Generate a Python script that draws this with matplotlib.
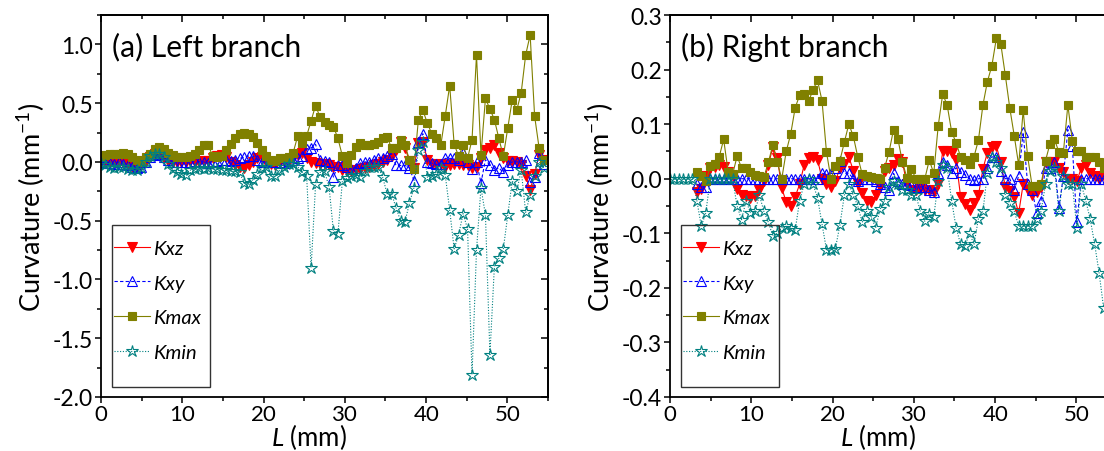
import numpy as np
import matplotlib
matplotlib.use('Agg')
import matplotlib.pyplot as plt
from matplotlib.patches import Rectangle
from matplotlib.ticker import MultipleLocator, FuncFormatter

nan = np.nan

# arc length along the branch (mm)
L = [0.0, 0.55, 1.1, 1.65, 2.2, 2.75, 3.3, 3.85, 4.4, 4.95,
     5.5, 6.05, 6.6, 7.15, 7.7, 8.25, 8.8, 9.35, 9.9, 10.45,
     11.0, 11.55, 12.1, 12.65, 13.2, 13.75, 14.3, 14.85, 15.4, 15.95,
     16.5, 17.05, 17.6, 18.15, 18.7, 19.25, 19.8, 20.35, 20.9, 21.45,
     22.0, 22.55, 23.1, 23.65, 24.2, 24.75, 25.3, 25.85, 26.4, 26.95,
     27.5, 28.05, 28.6, 29.15, 29.7, 30.25, 30.8, 31.35, 31.9, 32.45,
     33.0, 33.55, 34.1, 34.65, 35.2, 35.75, 36.3, 36.85, 37.4, 37.95,
     38.5, 39.05, 39.6, 40.15, 40.7, 41.25, 41.8, 42.35, 42.9, 43.45,
     44.0, 44.55, 45.1, 45.65, 46.2, 46.75, 47.3, 47.85, 48.4, 48.95,
     49.5, 50.05, 50.6, 51.15, 51.7, 52.25, 52.8, 53.35, 53.9, 54.45]

# (a) left branch
left_kxz = [0.0, -0.01, 0.0, -0.01, 0.0, -0.01, -0.03, -0.04, -0.05, -0.03,
            0.01, 0.04, 0.07, 0.06, 0.03, 0.01, 0.0, 0.0, 0.0, 0.0,
            0.01, 0.0, 0.0, 0.01, 0.01, 0.03, 0.05, 0.06, 0.04, 0.0,
            -0.03, -0.04, -0.05, -0.03, 0.0, 0.03, 0.04, 0.0, -0.02, -0.03,
            0.0, 0.01, 0.01, 0.03, 0.06, 0.08, 0.03, 0.0, -0.01, -0.02,
            -0.02, -0.03, -0.04, -0.04, -0.07, -0.08, -0.08, -0.07, -0.06, -0.05,
            -0.04, -0.03, -0.02, 0.0, 0.02, 0.05, 0.1, 0.17, 0.12, 0.01,
            -0.05, 0.16, 0.17, 0.02, -0.02, -0.03, -0.02, -0.04, -0.03, -0.02,
            -0.02, -0.03, -0.03, -0.05, -0.04, 0.03, 0.1, 0.12, 0.14, 0.08,
            0.03, 0.01, 0.01, 0.0, -0.03, -0.12, -0.24, -0.1, 0.06, 0.02]
left_kxy = [0.0, -0.01, -0.01, -0.02, 0.0, -0.02, -0.03, -0.04, -0.05, -0.04,
            0.0, 0.04, 0.06, 0.07, 0.04, 0.02, 0.0, 0.0, 0.0, 0.0,
            0.0, 0.01, 0.0, 0.0, -0.01, 0.0, 0.01, 0.02, 0.02, 0.01,
            0.02, 0.03, 0.04, 0.05, 0.05, 0.02, 0.0, 0.01, 0.0, 0.0,
            0.0, -0.01, 0.01, 0.02, 0.03, 0.05, 0.11, 0.12, 0.15, 0.02,
            0.01, 0.0, -0.13, -0.03, -0.03, -0.04, -0.06, -0.05, -0.01, 0.0,
            0.0, 0.02, 0.03, 0.03, 0.05, 0.07, -0.03, -0.03, -0.03, -0.05,
            -0.16, 0.17, 0.24, 0.0, -0.01, -0.02, -0.02, 0.03, 0.03, 0.03,
            0.02, 0.08, 0.0, -0.06, 0.0, -0.18, 0.02, -0.03, -0.07, -0.05,
            -0.09, -0.03, 0.0, 0.0, 0.0, 0.02, -0.17, -0.13, 0.08, -0.02]
left_kmax = [0.05, 0.06, 0.07, 0.07, 0.07, 0.08, 0.07, 0.04, 0.02, 0.0,
             0.04, 0.07, 0.11, 0.13, 0.11, 0.08, 0.06, 0.04, 0.04, 0.04,
             0.05, 0.07, 0.1, 0.14, 0.14, 0.05, 0.04, 0.05, 0.1, 0.15,
             0.2, 0.24, 0.25, 0.24, 0.21, 0.16, 0.1, 0.05, 0.02, 0.01,
             0.03, 0.03, 0.04, 0.08, 0.22, 0.165, 0.22, 0.35, 0.48, 0.38,
             0.34, 0.31, 0.3, 0.2, 0.05, -0.01, 0.06, 0.13, 0.16, 0.14,
             0.14, 0.15, 0.17, 0.2, 0.21, 0.12, 0.12, 0.19, 0.14, 0.02,
             -0.06, 0.36, 0.44, 0.33, 0.24, 0.2, 0.14, 0.39, 0.65, 0.15,
             0.05, 0.14, 0.03, 0.19, 0.91, 0.06, 0.54, 0.45, 0.36, 0.2,
             0.05, 0.29, 0.53, 0.44, 0.59, 0.91, 1.08, 0.39, 0.12, 0.02]
left_kmin = [-0.01, -0.03, -0.04, -0.05, -0.04, -0.04, -0.06, -0.07, -0.07, -0.05,
             0.0, 0.05, 0.07, 0.07, 0.04, -0.02, -0.06, -0.09, -0.1, -0.11,
             -0.07, -0.06, -0.05, -0.06, -0.05, -0.06, -0.06, -0.07, -0.07, -0.08,
             -0.08, -0.09, -0.18, -0.19, -0.15, -0.1, -0.05, -0.04, -0.12, -0.12,
             -0.07, -0.04, -0.02, -0.02, -0.04, -0.09, -0.12, -0.9, -0.19, -0.09,
             -0.08, -0.21, -0.59, -0.61, -0.16, -0.14, -0.12, -0.11, -0.13, -0.08,
             -0.04, -0.04, -0.04, -0.13, -0.27, -0.27, -0.39, -0.5, -0.51, -0.35,
             -0.22, 0.1, 0.17, -0.13, -0.12, -0.1, -0.05, -0.11, -0.41, -0.74,
             -0.62, -0.44, -0.57, -1.81, -0.75, -0.22, -0.45, -1.64, -0.89, -0.82,
             -0.74, -0.45, -0.16, -0.25, -0.07, -0.43, -0.28, -0.12, 0.0, -0.05]

# (b) right branch
right_kxz = [nan, nan, nan, nan, nan, nan, -0.025, -0.018, 0.005, 0.02,
             0.022, 0.025, 0.022, 0.013, 0.005, -0.019, -0.03, -0.032, -0.035, -0.032,
             -0.02, -0.005, 0.025, 0.058, 0.038, -0.017, -0.043, -0.05, -0.033, -0.01,
             0.025, 0.038, 0.04, 0.035, 0.0, -0.01, -0.015, -0.005, 0.02, 0.027,
             0.04, 0.015, -0.01, -0.027, -0.04, -0.043, -0.03, -0.015, 0.015, 0.02,
             0.026, 0.036, 0.03, -0.01, -0.02, -0.021, -0.018, -0.02, -0.02, -0.025,
             -0.01, 0.05, 0.05, 0.047, 0.035, -0.033, -0.046, -0.058, -0.045, -0.03,
             0.018, 0.048, 0.058, 0.06, 0.03, -0.015, -0.023, -0.033, -0.063, -0.01,
             -0.02, -0.03, -0.025, -0.015, 0.03, 0.03, 0.03, 0.02, 0.012, 0.0,
             0.0, -0.005, 0.02, 0.025, 0.01, 0.005, 0.0, 0.005, 0.0, 0.0]
right_kxy = [nan, nan, nan, nan, nan, nan, -0.01, -0.015, -0.015, 0.0,
             0.0, 0.0, 0.0, 0.0, 0.0, 0.0, 0.0, 0.0, 0.0, 0.0,
             0.0, 0.0, 0.0, 0.0, 0.0, 0.0, 0.0, 0.0, 0.0, 0.0,
             0.0, 0.0, 0.0, 0.0, 0.01, 0.008, 0.01, 0.02, 0.033, 0.01,
             0.01, 0.0, -0.005, 0.0, 0.0, 0.0, -0.005, -0.01, -0.015, -0.02,
             0.01, -0.005, -0.01, -0.01, -0.012, -0.015, -0.015, -0.016, -0.02, -0.025,
             0.01, 0.03, 0.025, 0.01, 0.02, 0.013, 0.007, 0.0, -0.003, 0.0,
             0.0, 0.02, 0.04, 0.04, 0.015, 0.0, 0.0, -0.02, 0.005, 0.085,
             -0.01, -0.02, -0.063, -0.04, 0.02, 0.02, 0.03, -0.053, 0.005, 0.09,
             0.06, -0.08, 0.0, 0.0, 0.0, 0.0, 0.0, 0.0, 0.0, 0.0]
right_kmax = [nan, nan, nan, nan, nan, nan, 0.013, 0.005, -0.005, 0.023,
              0.027, 0.04, 0.072, 0.013, 0.008, 0.041, 0.02, 0.019, 0.013, 0.007,
              0.005, 0.003, 0.03, 0.062, 0.03, 0.0, 0.05, 0.082, 0.13, 0.153,
              0.155, 0.142, 0.163, 0.18, 0.143, 0.049, 0.0, 0.023, 0.033, 0.067,
              0.1, 0.078, 0.04, 0.008, 0.005, 0.003, 0.002, 0.0, 0.02, 0.049,
              0.09, 0.072, 0.03, 0.002, 0.018, 0.0, 0.0, 0.0, 0.034, 0.01,
              0.097, 0.155, 0.135, 0.086, 0.066, 0.04, 0.034, 0.027, 0.04, 0.071,
              0.135, 0.178, 0.207, 0.257, 0.247, 0.19, 0.13, 0.079, 0.025, 0.125,
              0.041, -0.013, -0.013, -0.01, 0.033, 0.064, 0.072, 0.049, 0.048, 0.135,
              0.07, 0.05, 0.051, 0.04, 0.04, 0.04, 0.03, 0.02, 0.015, 0.01]
right_kmin = [0.0, 0.0, 0.0, 0.0, 0.0, 0.0, -0.04, -0.087, -0.063, 0.0,
              0.0, 0.0, 0.0, 0.0, 0.0, -0.05, -0.075, -0.041, -0.062, -0.06,
              -0.03, -0.06, -0.08, -0.105, -0.1, -0.09, -0.087, -0.09, -0.094, -0.04,
              -0.01, 0.0, -0.01, -0.035, -0.083, -0.13, -0.13, -0.128, -0.085, -0.03,
              -0.01, -0.03, -0.05, -0.08, -0.06, -0.07, -0.09, -0.056, -0.04, -0.015,
              -0.005, -0.01, -0.02, -0.02, -0.03, -0.03, -0.06, -0.078, -0.064, -0.07,
              -0.005, 0.025, 0.02, -0.04, -0.09, -0.12, -0.123, -0.1, -0.12, -0.073,
              -0.06, 0.01, 0.04, 0.03, 0.02, -0.03, -0.045, -0.06, -0.086, -0.086,
              -0.086, -0.086, -0.073, -0.06, -0.01, 0.015, 0.02, -0.06, 0.005, -0.01,
              -0.01, -0.09, -0.01, -0.04, -0.074, -0.12, -0.173, -0.237, nan, nan]

labels = ['Kxz', 'Kxy', 'Kmax', 'Kmin']

plt.rcParams['font.family'] = ['Lato', 'DejaVu Sans']
plt.rcParams['axes.unicode_minus'] = False
plt.rcParams['mathtext.fontset'] = 'custom'
plt.rcParams['mathtext.rm'] = 'Lato'
plt.rcParams['mathtext.it'] = 'Lato:italic'

styles = [
    dict(color='#ff0000', ls='-', marker='v', ms=6.5, mfc='#ff0000'),
    dict(color='#0000ff', ls=(0, (3, 2)), marker='^', ms=6.5, mfc='none'),
    dict(color='#808000', ls='-', marker='s', ms=5.2, mfc='#808000'),
    dict(color='#008080', ls=(0, (1, 1.5)), marker='*', ms=9, mfc='none'),
]


def panel(ax, series, ylim, ymaj, ymin, title):
    for y, lab, st in zip(series, labels, styles):
        ax.plot(L, y, label=lab, lw=0.8, mew=0.8, **st)
    ax.set_xlim(0, 55)
    ax.set_ylim(*ylim)
    ax.xaxis.set_major_locator(MultipleLocator(10))
    ax.xaxis.set_minor_locator(MultipleLocator(5))
    # mathtext keeps the x tick label boxes tight to the digits
    ax.xaxis.set_major_formatter(FuncFormatter(lambda v, p: '$%d$' % round(v)))
    ax.yaxis.set_major_locator(MultipleLocator(ymaj))
    ax.yaxis.set_minor_locator(MultipleLocator(ymin))
    ax.tick_params(which='both', direction='out', labelsize=16.5, width=1.1, pad=1.5)
    ax.tick_params(axis='x', labelsize=16, pad=0.3)
    ax.tick_params(which='major', length=4.5)
    ax.tick_params(which='minor', length=2.8)
    for s in ax.spines.values():
        s.set_linewidth(1.3)

    # mirrored axes with inward ticks, as in Origin
    top = ax.secondary_xaxis('top')
    top.xaxis.set_major_locator(MultipleLocator(10))
    top.xaxis.set_minor_locator(MultipleLocator(5))
    top.tick_params(which='both', direction='in', labeltop=False, width=1.1)
    top.tick_params(which='major', length=5)
    top.tick_params(which='minor', length=3)
    right = ax.secondary_yaxis('right')
    right.yaxis.set_major_locator(MultipleLocator(ymaj))
    right.yaxis.set_minor_locator(MultipleLocator(ymin))
    right.tick_params(which='both', direction='in', labelright=False, width=1.1)
    right.tick_params(which='major', length=5)
    right.tick_params(which='minor', length=3)
    for sec in (top, right):
        for s in sec.spines.values():
            s.set_linewidth(1.3)

    ax.set_xlabel('$L$ (mm)', fontsize=18.5)
    ax.xaxis.label.set_va('baseline')
    ax.xaxis.set_label_coords(0.465, -0.126)
    ax.set_ylabel('Curvature (mm$^{-1}$)', fontsize=19.5, labelpad=4)
    ax.text(0.025, 0.893, title, transform=ax.transAxes, fontsize=21.5,
            va='baseline', ha='left')

    # legend entries without frame, plus an Origin-like box drawn separately
    ax.legend(loc='upper left', bbox_to_anchor=(0.029, 0.412), frameon=False,
              prop={'style': 'italic', 'size': 14.5}, borderpad=0,
              borderaxespad=0, handlelength=1.8, handletextpad=0.12,
              labelspacing=0.88)
    ax.add_patch(Rectangle((0.0246, 0.026), 0.219, 0.424, transform=ax.transAxes,
                           fill=False, ec='#333333', lw=1.0, zorder=5))


fig = plt.figure(figsize=(11.04, 4.52), dpi=100)
ax1 = fig.add_axes([0.0915, 0.1195, 0.4049, 0.8451])
ax2 = fig.add_axes([0.6069, 0.1195, 0.4049, 0.8451])

panel(ax1, [left_kxz, left_kxy, left_kmax, left_kmin], (-2.0, 1.25), 0.5, 0.25,
      '(a) Left branch')
panel(ax2, [right_kxz, right_kxy, right_kmax, right_kmin], (-0.4, 0.3), 0.1, 0.05,
      '(b) Right branch')

fig.savefig('out.png', dpi=100)
